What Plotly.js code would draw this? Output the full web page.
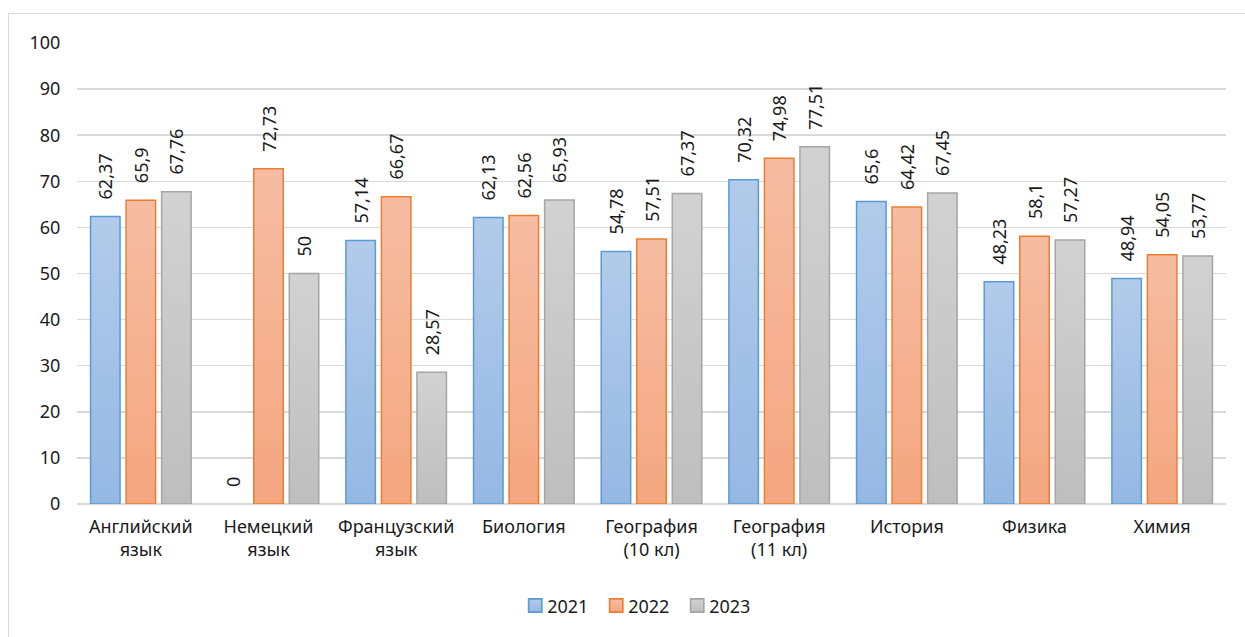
<!DOCTYPE html>
<html>
<head>
<meta charset="utf-8">
<script src="https://cdn.plot.ly/plotly-3.0.1.min.js"></script>
<style>
html,body{margin:0;padding:0;background:#fff;overflow:hidden;}
#chart{position:absolute;left:0;top:0;width:1245px;height:637px;}
#frame{position:absolute;left:8px;top:13px;width:1300px;height:700px;border:1.5px solid #D9D9D9;pointer-events:none;}
</style>
</head>
<body>
<div id="chart"></div>
<div id="frame"></div>
<script>
const categories = ["Английский<br>язык","Немецкий<br>язык","Французский<br>язык","Биология","География<br>(10 кл)","География<br>(11 кл)","История","Физика","Химия"];
const years = ["2021","2022","2023"];
const values2021 = [62.37, 0, 57.14, 62.13, 54.78, 70.32, 65.6, 48.23, 48.94];
const values2022 = [65.9, 72.73, 66.67, 62.56, 57.51, 74.98, 64.42, 58.1, 54.05];
const values2023 = [67.76, 50, 28.57, 65.93, 67.37, 77.51, 67.45, 57.27, 53.77];
const yTicks = [0,10,20,30,40,50,60,70,80,90,100];

const series = [values2021, values2022, values2023];
const lineColors = ["#5B9BD5", "#ED7D31", "#A5A5A5"];
const fillColors = ["#A4C2E6", "#F5B292", "#C8C8C8"];
const gradStops = [["#B2CBEA","#95B8E3"],["#F6BDA3","#F4A67F"],["#D2D2D2","#BEBEBE"]];
const FONT = "Noto Sans, Liberation Sans, Arial, sans-serif";

const fmt = v => "\u00A0\u00A0\u00A0" + String(v).replace(".", ",");

const traces = series.map((vals, i) => ({
  type: "bar",
  name: years[i],
  x: categories,
  y: vals,
  text: vals.map(fmt),
  textposition: "outside",
  textangle: -90,
  constraintext: "none",
  cliponaxis: false,
  textfont: {family: FONT, size: 18, color: "#1a1a1a"},
  marker: {color: fillColors[i], line: {color: lineColors[i], width: vals.map(v => v === 0 ? 0 : 1.5)}},
  hoverinfo: "x+y"
}));

const layout = {
  width: 1245, height: 637,
  margin: {l: 77, r: 19, t: 43, b: 133},
  paper_bgcolor: "#ffffff",
  plot_bgcolor: "#ffffff",
  barmode: "group",
  bargap: 0.165,
  bargroupgap: 0.17,
  font: {family: FONT, size: 18, color: "#1a1a1a"},
  uniformtext: {mode: "show", minsize: 18},
  showlegend: true,
  legend: {
    orientation: "h",
    x: 0.505, xanchor: "center",
    y: 0.049, yanchor: "middle",
    xref: "container", yref: "container",
    bgcolor: "rgba(0,0,0,0)",
    font: {family: FONT, size: 18, color: "#1a1a1a"},
    itemwidth: 30,
    entrywidth: 36,
    entrywidthmode: "pixels",
    traceorder: "normal"
  },
  xaxis: {
    type: "category",
    showgrid: false,
    showline: false,
    zeroline: false,
    ticks: "outside", ticklen: 6, tickcolor: "rgba(0,0,0,0)",
    tickfont: {family: FONT, size: 18, color: "#1a1a1a"},
    tickangle: 0
  },
  yaxis: {
    range: [0, 100],
    tickvals: yTicks,
    ticktext: yTicks.map(String),
    showgrid: true,
    gridcolor: "#D9D9D9",
    gridwidth: 1.5,
    zeroline: true,
    zerolinecolor: "#D9D9D9",
    zerolinewidth: 1.5,
    showline: false,
    ticks: "outside", ticklen: 12, tickcolor: "rgba(0,0,0,0)",
    tickfont: {family: FONT, size: 18, color: "#1a1a1a"},
    fixedrange: true
  }
};

Plotly.newPlot("chart", traces, layout, {displayModeBar: false, staticPlot: true}).then(gd => {
  const svg = gd.querySelector("svg.main-svg");
  const NS = "http://www.w3.org/2000/svg";
  let defs = svg.querySelector("defs");
  if (!defs) { defs = document.createElementNS(NS, "defs"); svg.insertBefore(defs, svg.firstChild); }
  gradStops.forEach((st, i) => {
    const g = document.createElementNS(NS, "linearGradient");
    g.setAttribute("id", "barGrad" + i);
    g.setAttribute("x1", "0"); g.setAttribute("y1", "0");
    g.setAttribute("x2", "0"); g.setAttribute("y2", "1");
    [[0, st[0]], [1, st[1]]].forEach(([o, c]) => {
      const s = document.createElementNS(NS, "stop");
      s.setAttribute("offset", String(o));
      s.setAttribute("stop-color", c);
      g.appendChild(s);
    });
    defs.appendChild(g);
  });
  gd.querySelectorAll(".barlayer .trace.bars").forEach((tr, i) => {
    tr.querySelectorAll("path").forEach(p => { p.style.fill = "url(#barGrad" + i + ")"; });
  });
  document.querySelectorAll(".legend .traces").forEach((tr, i) => {
    tr.querySelectorAll(".legendpoints path").forEach(p => {
      p.style.fill = "url(#barGrad" + i + ")";
      const t = p.getAttribute("transform") || "";
      p.setAttribute("transform", t + " translate(8,0) scale(1.1)");
    });
  });
});
</script>
</body>
</html>
